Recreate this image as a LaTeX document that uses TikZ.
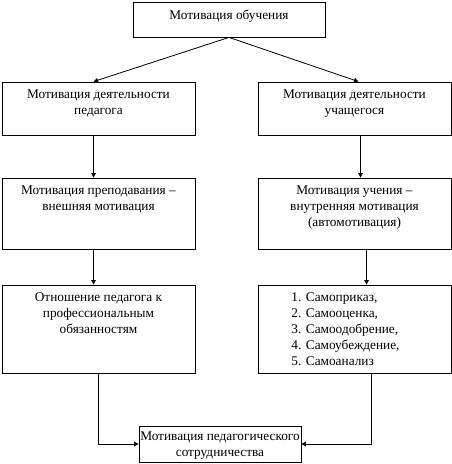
\documentclass[tikz,border=0pt]{standalone}
\usepackage{fontspec}
\setmainfont{Liberation Serif}
\usetikzlibrary{arrows.meta,positioning}

\begin{document}
\begin{tikzpicture}[x=1pt, y=-1pt, >={Triangle[width=4.5pt,length=4.5pt]}, line width=0.8pt,
    box/.style={draw, rectangle, inner sep=0pt},
    txt/.style={anchor=north, align=center, inner sep=0pt, yshift=-8pt,
        font=\fontsize{13.3}{16}\selectfont}]
    \useasboundingbox (0,0) rectangle (452,464);

    \node[box, minimum width=192pt, minimum height=35pt,
        label={[txt]north:Мотивация обучения}] (mot) at (229,19.5) {};

    \node[box, minimum width=193pt, minimum height=53pt,
        label={[txt]north:{Мотивация деятельности\\педагога}}] (pedA) at (98.5,108.5) {};
    \node[box, minimum width=193pt, minimum height=53pt,
        label={[txt]north:{Мотивация деятельности\\учащегося}}] (stuA) at (354.5,108.5) {};

    \node[box, minimum width=193pt, minimum height=71pt,
        label={[txt]north:{Мотивация преподавания –\\внешняя мотивация}}] (pedB) at (98.5,213.5) {};
    \node[box, minimum width=193pt, minimum height=71pt,
        label={[txt]north:{Мотивация учения –\\внутренняя мотивация\\(автомотивация)}}] (stuB) at (354.5,213.5) {};

    \node[box, minimum width=193pt, minimum height=88pt,
        label={[txt]north:{Отношение педагога к\\профессиональным\\обязанностям}}] (pedC) at (98.5,329) {};
    \node[box, minimum width=193pt, minimum height=88pt,
        label={[txt, align=left, xshift=-9pt]north:{1. Самоприказ,\\2. Самооценка,\\3. Самоодобрение,\\4. Самоубеждение,\\5. Самоанализ}}] (stuC) at (354.5,329) {};

    \node[box, minimum width=162pt, minimum height=36pt,
        label={[txt, yshift=2pt]north:{Мотивация педагогического\\сотрудничества}}] (coop) at (220,444) {};

    \draw[->] (mot.south) -- ([xshift=-5pt]pedA.north);
    \draw[->] (mot.south) -- ([xshift=4pt]stuA.north);
    \draw[->] ([xshift=-5pt]pedA.south) -- ([xshift=-5pt]pedB.north);
    \draw[->] ([xshift=6pt]stuA.south) -- ([xshift=6pt]stuB.north);
    \draw[->] ([xshift=-5pt]pedB.south) -- ([xshift=-5pt]pedC.north);
    \draw[->] ([xshift=12pt]stuB.south) -- ([xshift=12pt]stuC.north);
    \draw[->] (pedC.south) |- (coop.west);
    \draw[->] ([xshift=17pt]stuC.south) |- (coop.east);
\end{tikzpicture}
\end{document}
